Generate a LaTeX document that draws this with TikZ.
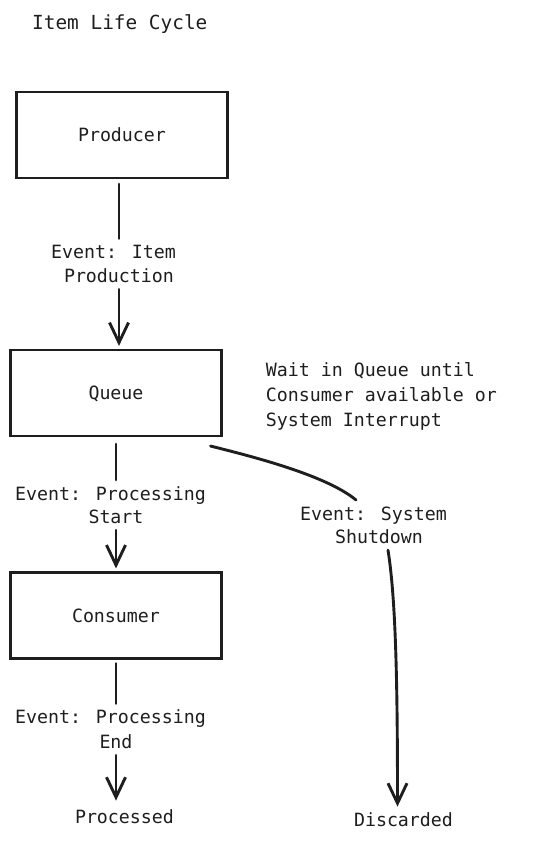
\documentclass[tikz,border=0pt]{standalone}
\usepackage{fontspec}
\usetikzlibrary{arrows.meta}
\newfontfamily\monof{DejaVu Sans Mono}
\newcommand{\bodyfont}{\monof\fontsize{18.27pt}{24pt}\selectfont}
\newcommand{\waitfont}{\monof\fontsize{18.27pt}{25pt}\selectfont}
\newcommand{\titlefont}{\monof\fontsize{19.4pt}{24pt}\selectfont}
\definecolor{ink}{HTML}{1E1E1E}
\begin{document}
\begin{tikzpicture}[x=1pt,y=-1pt,
  txt/.style={font=\bodyfont, text=ink, text height=13.3pt, text depth=0pt, inner xsep=2pt, inner ysep=6.5pt, anchor=base},
  box/.style={draw=ink, line width=2.1pt, minimum width=211pt, minimum height=86pt, inner sep=0pt, font=\bodyfont, text=ink, text height=13.3pt, text depth=0pt},
  conn/.style={draw=ink, line width=2.9pt, line cap=round},
  tip/.style={-{Straight Barb[length=20pt,width=19pt]}}]
\useasboundingbox (0,0) rectangle (554,844);
\node[anchor=base west, font=\titlefont, text=ink, inner sep=0pt] (title) at (32,29) {Item Life Cycle};
% boxes
\node[box] (producer) at (122,135) {Producer};
\node[box] (queue) at (116,393) {Queue};
\node[box] (consumer) at (116,615.5) {Consumer};
% labels
\node[txt] (l1a) at (119,258.6) {Event: Item\phantom{x}};
\node[txt] (l1b) at (119,282.6) {Production};
\node[txt] (l2a) at (116,500) {Event: Processing\phantom{x}};
\node[txt] (l2b) at (116,523.4) {Start};
\node[txt] (l3a) at (116,723.6) {Event: Processing\phantom{x}};
\node[txt] (l3b) at (116,748.6) {End};
\node[txt] (l4a) at (379,520) {Event: System\phantom{x}};
\node[txt] (l4b) at (379,543.4) {Shutdown};
\node[txt] (processed) at (124.5,823.6) {Processed};
\node[txt] (discarded) at (403.5,826.6) {Discarded};
\node[anchor=north west, inner sep=0pt, align=left, font=\waitfont, text=ink] (wait) at (265.6,362.7) {Wait in Queue until\\Consumer available or\\System Interrupt};
% connectors
\draw[conn, shorten <=5pt] (l1a.north |- producer.south) -- (l1a.north);
\draw[conn, tip, shorten >=3pt] (l1b.south) -- (l1b.south |- queue.north);
\draw[conn, shorten <=7pt] (l2a.north |- queue.south) -- (l2a.north);
\draw[conn, tip, shorten >=3pt] (l2b.south) -- (l2b.south |- consumer.north);
\draw[conn, shorten <=4pt] (l3a.north |- consumer.south) -- (l3a.north);
\draw[conn, tip, shorten >=3pt] (l3b.south) -- (l3b.south |- processed.north);
\draw[conn] ([shift={(-12pt,-9pt)}]queue.south east) .. controls +(40,10) and +(-30,-25) .. ([xshift=-23pt]l4a.north);
\draw[conn, tip] ([xshift=9pt]l4b.south) .. controls +(8,50) and +(0,-120) .. ([xshift=-6pt]discarded.north);
\end{tikzpicture}
\end{document}
